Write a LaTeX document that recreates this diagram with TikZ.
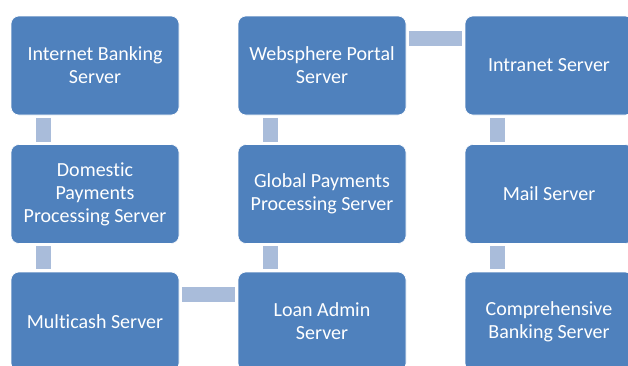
\documentclass[tikz,border=0pt]{standalone}
\usepackage{fontspec}
\setmainfont[Ligatures=NoCommon]{Carlito}
\usepackage{tikz}
\usetikzlibrary{positioning}
\definecolor{boxblue}{HTML}{4F81BD}
\definecolor{linkblue}{HTML}{A9BCDA}

\begin{document}
\begin{tikzpicture}[x=1pt,y=-1pt,
  srv/.style={rectangle,rounded corners=8pt,fill=boxblue,draw=white,line width=0.6pt,
    minimum width=168pt,minimum height=99pt,align=center,text=white,
    font=\fontsize{20}{23}\selectfont,inner sep=0pt},
  link/.style={draw=linkblue,line width=15pt,shorten <=2.5pt,shorten >=2.5pt}]
\useasboundingbox (0,0) rectangle (628,365);
\clip (0,0) rectangle (628,365);
% column one
\node[srv] (ib) at (95,65.5) {Internet Banking\\Server};
\node[srv] (dp) at (95,194) {Domestic\\Payments\\Processing Server};
\node[srv] (mc) at (95,321.5) {Multicash Server};
% column two
\node[srv] (wp) at (322,65.5) {Websphere Portal\\Server};
\node[srv] (gp) at (322,194) {Global Payments\\Processing Server};
\node[srv] (la) at (322,321.5) {Loan Admin\\Server};
% column three
\node[srv] (in) at (549,65.5) {Intranet Server};
\node[srv] (ma) at (549,194) {Mail Server};
\node[srv] (cb) at (549,321.5) {Comprehensive\\Banking Server};
% connectors
\draw[link] ([xshift=32.5pt]ib.south west) -- ([xshift=32.5pt]dp.north west);
\draw[link] ([xshift=32.5pt]dp.south west) -- ([xshift=32.5pt]mc.north west);
\draw[link] ([xshift=32.5pt]wp.south west) -- ([xshift=32.5pt]gp.north west);
\draw[link] ([xshift=32.5pt]gp.south west) -- ([xshift=32.5pt]la.north west);
\draw[link] ([xshift=32.5pt]in.south west) -- ([xshift=32.5pt]ma.north west);
\draw[link] ([xshift=32.5pt]ma.south west) -- ([xshift=32.5pt]cb.north west);
\draw[link] ([yshift=-23pt]wp.north east) -- ([yshift=-23pt]in.north west);
\draw[link] ([yshift=-23pt]mc.north east) -- ([yshift=-23pt]la.north west);
\end{tikzpicture}
\end{document}
